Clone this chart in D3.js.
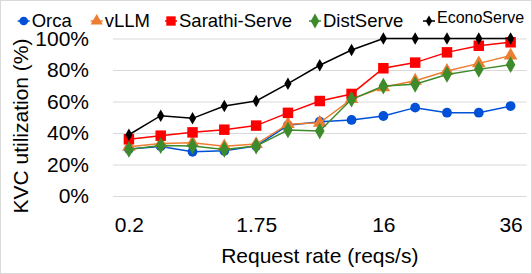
<!DOCTYPE html>
<html>
<head>
<meta charset="utf-8">
<script src="https://d3js.org/d3.v7.min.js"></script>
<style>
  body { margin: 0; background: #fff; }
  svg text { font-family: "Liberation Sans", Arial, sans-serif; fill: #000; }
</style>
</head>
<body>
<svg id="chart" width="532" height="274"></svg>
<script>
// request-rate categories (only every 4th one is labelled on the axis)
var rateLabels = ["0.2", "", "", "", "1.75", "", "", "", "16", "", "", "", "36"];
var yTicks = [0, 20, 40, 60, 80, 100];

var orca      = [29.8, 31.5, 28.1, 28.7, 31.7, 44.9, 47.2, 48.3, 50.8, 56.1, 52.9, 52.9, 57.1];
var vllm      = [31.3, 33.4, 33.8, 31.6, 33.0, 45.6, 46.5, 61.5, 69.0, 73.2, 79.4, 84.2, 89.1];
var sarathi   = [36.0, 38.3, 40.4, 42.1, 44.7, 52.8, 60.3, 64.8, 81.1, 84.7, 91.2, 95.4, 97.6];
var distserve = [29.6, 32.0, 31.7, 29.6, 31.7, 41.9, 41.3, 61.4, 69.8, 70.9, 77.2, 80.4, 83.4];
var econo     = [38.9, 51.0, 49.3, 57.1, 60.3, 71.3, 83.0, 92.7, 100, 100, 100, 100, 100];

var series = [
  {name: "Orca",          values: orca,      color: "#0050d8", shape: d3.symbolCircle,   size: 75},
  {name: "vLLM",          values: vllm,      color: "#ed7d31", shape: d3.symbolTriangle, size: 80},
  {name: "Sarathi-Serve", values: sarathi,   color: "#ff0000", shape: d3.symbolSquare,   size: 110},
  {name: "DistServe",     values: distserve, color: "#3d8b2a", shape: d3.symbolDiamond,  size: 80},
  {name: "EconoServe",    values: econo,     color: "#000000", shape: d3.symbolDiamond,  size: 45}
];

var svg = d3.select("#chart");
var plotLeft = 113, plotRight = 526.5, plotTop = 38.5, plotBottom = 196;

svg.append("rect")
  .attr("x", 0.5).attr("y", 0.5).attr("width", 531).attr("height", 273)
  .attr("fill", "#fff").attr("stroke", "#d9d9d9");

var x = d3.scalePoint()
  .domain(d3.range(rateLabels.length))
  .range([plotLeft, plotRight])
  .padding(0.5);

var y = d3.scaleLinear().domain([0, 100]).range([plotBottom, plotTop]);

// gridlines + y labels
var yAxis = svg.append("g")
  .attr("transform", "translate(" + plotLeft + ",0)")
  .call(d3.axisLeft(y).tickValues(yTicks).tickSize(-(plotRight - plotLeft)).tickPadding(24)
    .tickFormat(function(d) { return d + "%"; }));
yAxis.select(".domain").remove();
yAxis.selectAll("line").attr("stroke", "#d9d9d9");
yAxis.selectAll("text").style("font-size", "21px");

// x labels
var xAxis = svg.append("g")
  .attr("transform", "translate(0," + plotBottom + ")")
  .call(d3.axisBottom(x).tickSize(0).tickPadding(21)
    .tickFormat(function(i) { return rateLabels[i]; }));
xAxis.select(".domain").remove();
xAxis.selectAll("text").style("font-size", "21px");

svg.append("text")
  .attr("x", (plotLeft + plotRight) / 2).attr("y", 263)
  .attr("text-anchor", "middle").style("font-size", "21px")
  .text("Request rate (reqs/s)");

svg.append("text")
  .attr("transform", "translate(28,126) rotate(-90)")
  .attr("text-anchor", "middle").style("font-size", "21px")
  .text("KVC utilization (%)");

var line = d3.line()
  .x(function(d, i) { return x(i); })
  .y(function(d) { return y(d); });

series.forEach(function(s) {
  var g = svg.append("g");
  g.append("path")
    .attr("d", line(s.values))
    .attr("fill", "none")
    .attr("stroke", s.color)
    .attr("stroke-width", 1.5);
  g.selectAll("path.pt")
    .data(s.values)
    .enter()
    .append("path")
    .attr("class", "pt")
    .attr("transform", function(d, i) { return "translate(" + x(i) + "," + y(d) + ")"; })
    .attr("d", d3.symbol().type(s.shape).size(s.size))
    .attr("fill", s.color);
});

// legend
var legendX = [23.7, 96.7, 171, 315, 429];
var legend = svg.append("g");
series.forEach(function(s, i) {
  var cx = legendX[i];
  var small = s.name == "EconoServe";
  legend.append("line")
    .attr("x1", cx - 6).attr("x2", cx + 6)
    .attr("y1", 21).attr("y2", 21)
    .attr("stroke", s.color).attr("stroke-width", 1.5);
  legend.append("path")
    .attr("transform", "translate(" + cx + ",21)")
    .attr("d", d3.symbol().type(s.shape).size(s.size * 0.8))
    .attr("fill", s.color);
  legend.append("text")
    .attr("x", cx + 8).attr("y", small ? 22.5 : 26.5)
    .style("font-size", small ? "16px" : "18.5px")
    .text(s.name);
});
</script>
</body>
</html>
